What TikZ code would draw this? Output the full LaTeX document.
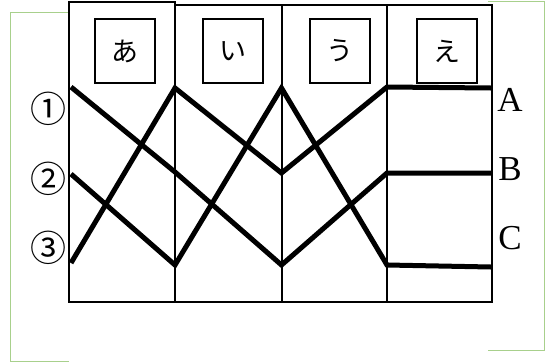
\documentclass[tikz,border=0pt]{standalone}
\usepackage{fontspec}
\setmainfont{Liberation Serif}
\newfontfamily\cjk{Noto Sans CJK JP}
\definecolor{framegreen}{RGB}{168,208,140}
\begin{document}
\begin{tikzpicture}[x=1pt,y=-1pt,
  frame/.style={draw=framegreen,line width=1pt},
  colbox/.style={draw=black,line width=2pt},
  lblbox/.style={draw=black,line width=1.3pt,minimum width=60pt,minimum height=64pt,inner sep=0pt,font=\cjk\fontsize{27}{27}\selectfont},
  route/.style={draw=black,line width=5pt,line join=miter,line cap=butt},
  numlbl/.style={inner sep=0pt,font=\cjk\fontsize{36}{36}\selectfont},
  endlbl/.style={inner sep=0pt,font=\fontsize{35}{35}\selectfont}]
\useasboundingbox (0,0) rectangle (548,362);
% green frame pieces
\draw[frame] (69,12) -- (10,12) -- (10,361) -- (69,361);
\draw[frame] (488,1) -- (544,1) -- (544,350) -- (488,350);
% columns
\draw[colbox] (69,2) rectangle (175,302);
\draw[colbox] (175,5) rectangle (281.5,302);
\draw[colbox] (281.5,5) rectangle (387,302);
\draw[colbox] (387,5) rectangle (492,302);
% label boxes
\node[lblbox] (ka) at (125,51) {あ};
\node[lblbox] (ki) at (233,51) {い};
\node[lblbox] (ku) at (340,51) {う};
\node[lblbox] (ke) at (447,51) {え};
% side labels
\node[numlbl] (n1) at (48,109) {①};
\node[numlbl] (n2) at (48,179) {②};
\node[numlbl] (n3) at (48,248) {③};
\node[endlbl] (eA) at (510,100) {A};
\node[endlbl] (eB) at (510,169) {B};
\node[endlbl] (eC) at (510,238) {C};
% route points
\coordinate (s1) at (71,87);
\coordinate (s2) at (71,174);
\coordinate (s3) at (71,263);
\coordinate (p1a) at (175,88);
\coordinate (p1b) at (175,172);
\coordinate (p1c) at (175,265);
\coordinate (p2a) at (281.5,88);
\coordinate (p2b) at (281.5,173);
\coordinate (p2c) at (281.5,265);
\coordinate (p3a) at (387,87);
\coordinate (p3b) at (387,173);
\coordinate (p3c) at (387,265);
\coordinate (tA) at (491,88);
\coordinate (tB) at (491,173);
\coordinate (tC) at (491,267);
% routes
\draw[route] (s3) -- (p1a) -- (p2b) -- (p3a) -- (tA);
\draw[route] (s1) -- (p1b) -- (p2c) -- (p3b) -- (tB);
\draw[route] (s2) -- (p1c) -- (p2a) -- (p3c) -- (tC);
\end{tikzpicture}
\end{document}
